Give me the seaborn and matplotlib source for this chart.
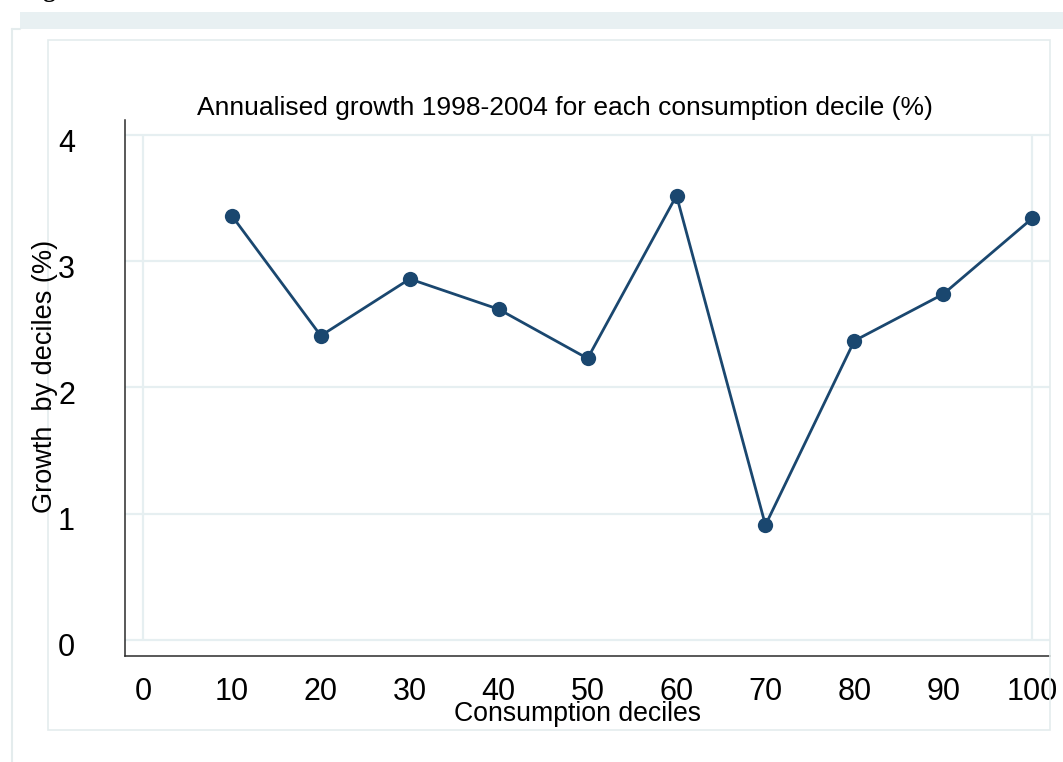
import matplotlib
matplotlib.use("Agg")
import matplotlib.pyplot as plt
import matplotlib.transforms as mtransforms
from matplotlib.patches import Rectangle
from matplotlib.lines import Line2D
import seaborn as sns
import pandas as pd

# datos
deciles = [10, 20, 30, 40, 50, 60, 70, 80, 90, 100]
crecimiento = [3.36, 2.41, 2.86, 2.62, 2.23, 3.52, 0.91, 2.37, 2.74, 3.34]
xticks = [0, 10, 20, 30, 40, 50, 60, 70, 80, 90, 100]
yticks = [0, 1, 2, 3, 4]

titulo = "Annualised growth 1998-2004 for each consumption decile (%)"
etiqueta_x = "Consumption deciles"
etiqueta_y = "Growth  by deciles (%)"

df = pd.DataFrame({"decil": deciles, "crecimiento": crecimiento})

sns.set_style("white")
plt.rcParams["font.family"] = ["Liberation Sans", "DejaVu Sans"]
plt.rcParams["text.color"] = "black"
plt.rcParams["xtick.labelcolor"] = "black"
plt.rcParams["ytick.labelcolor"] = "black"

W, H = 1063, 762
fig = plt.figure(figsize=(W / 100, H / 100), dpi=100)

def fx(px):
    return px / W

def fy(py):
    return 1 - py / H

# marcos del documento
borde = "#e4eced"
fig.patches.append(Rectangle((fx(20), fy(29)), fx(W - 20), (29 - 12) / H,
                             transform=fig.transFigure, facecolor="#e8f0f2",
                             edgecolor="none", zorder=0))
fig.lines.append(Line2D([fx(12), fx(12)], [fy(29), fy(H)], transform=fig.transFigure,
                        color=borde, lw=1.5))
fig.lines.append(Line2D([fx(12), fx(20)], [fy(29), fy(29)], transform=fig.transFigure,
                        color=borde, lw=1.5))
fig.patches.append(Rectangle((fx(48), fy(730)), fx(1050 - 48), (730 - 40) / H,
                             transform=fig.transFigure, facecolor="none",
                             edgecolor=borde, lw=1.2, zorder=0))
fig.text(fx(22), fy(-3), "Figure", fontsize=18, ha="left", va="baseline",
         fontweight="bold", fontfamily="Liberation Serif")

ax = fig.add_axes([fx(125), fy(656), fx(1050 - 125), (656 - 120) / H])
ax.set_facecolor("none")

gris = "#e6eff1"
for v in yticks:
    ax.axhline(v, color=gris, lw=1.6, zorder=0)
ax.vlines([xticks[0], xticks[-1]], yticks[0], yticks[-1], color=gris, lw=1.6, zorder=0)

sns.lineplot(data=df, x="decil", y="crecimiento", ax=ax, color="#1a476f",
             lw=2.0, marker="o", markersize=11, markeredgewidth=0, zorder=3)

ax.set_xlim(-2.02, 102.0)
ax.set_ylim(-0.127, 4.119)
ax.set_xticks(xticks)
ax.set_yticks(yticks)
ax.set_xlabel("")
ax.set_ylabel("")

for lado in ["top", "right"]:
    ax.spines[lado].set_visible(False)
for lado in ["left", "bottom"]:
    ax.spines[lado].set_color("#2b2b2b")
    ax.spines[lado].set_linewidth(1.1)

ax.tick_params(axis="x", length=7.5, width=1.0, color="#2b2b2b", labelsize=22,
               labelcolor="black", pad=7.5, direction="out")
ax.tick_params(axis="y", length=8, width=1.0, color="#2b2b2b", labelsize=22,
               labelcolor="black", pad=28, direction="out")
desplaza = mtransforms.ScaledTranslation(0, -5 / 100, fig.dpi_scale_trans)
for lab in ax.get_yticklabels():
    lab.set_transform(lab.get_transform() + desplaza)

fig.text(fx(565), fy(115), titulo, fontsize=19, ha="center", va="baseline", color="black")
fig.text(fx(577), fy(721), etiqueta_x, fontsize=19.2, ha="center", va="baseline", color="black")
fig.text(fx(45), fy(376), etiqueta_y, fontsize=19.5, ha="center", va="center",
         rotation=90, color="black")

fig.savefig("out.png", dpi=100)
